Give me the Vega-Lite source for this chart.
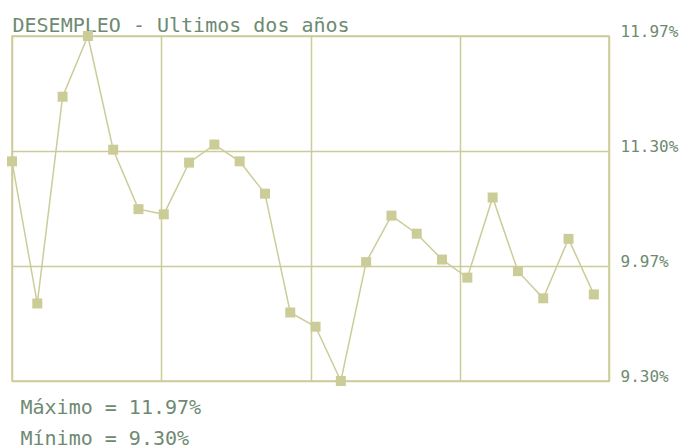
{
  "$schema": "https://vega.github.io/schema/vega-lite/v6.json",
  "width": 597,
  "height": 345,
  "autosize": "none",
  "padding": {"left": 12, "top": 36, "right": 72, "bottom": 67},
  "background": "white",
  "config": {"view": {"stroke": "#cccc99", "strokeWidth": 1.5}},
  "data": {
    "values": [
      {"mes": 0, "tasa": 11.00},
      {"mes": 1, "tasa": 9.90},
      {"mes": 2, "tasa": 11.50},
      {"mes": 3, "tasa": 11.97},
      {"mes": 4, "tasa": 11.09},
      {"mes": 5, "tasa": 10.63},
      {"mes": 6, "tasa": 10.59},
      {"mes": 7, "tasa": 10.99},
      {"mes": 8, "tasa": 11.13},
      {"mes": 9, "tasa": 11.00},
      {"mes": 10, "tasa": 10.75},
      {"mes": 11, "tasa": 9.83},
      {"mes": 12, "tasa": 9.72},
      {"mes": 13, "tasa": 9.30},
      {"mes": 14, "tasa": 10.22},
      {"mes": 15, "tasa": 10.58},
      {"mes": 16, "tasa": 10.44},
      {"mes": 17, "tasa": 10.24},
      {"mes": 18, "tasa": 10.10},
      {"mes": 19, "tasa": 10.72},
      {"mes": 20, "tasa": 10.15},
      {"mes": 21, "tasa": 9.94},
      {"mes": 22, "tasa": 10.40},
      {"mes": 23, "tasa": 9.97}
    ]
  },
  "encoding": {
    "x": {
      "field": "mes",
      "type": "quantitative",
      "scale": {"domain": [0, 23.6], "nice": false, "zero": false},
      "axis": {
        "orient": "bottom",
        "values": [0, 5.9, 11.8, 17.7, 23.6],
        "grid": true,
        "gridColor": "#cccc99",
        "gridWidth": 1.5,
        "gridOpacity": 1,
        "labels": false,
        "ticks": false,
        "domain": false,
        "title": ["Máximo = 11.97%", "Mínimo = 9.30%"],
        "titleFont": "DejaVu Sans Mono",
        "titleFontSize": 20,
        "titleFontWeight": "normal",
        "titleColor": "#6e8a72",
        "titleAnchor": "start",
        "titleAlign": "left",
        "titleBaseline": "alphabetic",
        "titleX": 8,
        "titleY": 32,
        "titleLineHeight": 31
      }
    },
    "y": {
      "field": "tasa",
      "type": "quantitative",
      "scale": {"domain": [9.30, 11.97], "nice": false, "zero": false},
      "axis": {
        "orient": "right",
        "values": [9.30, 10.19, 11.08, 11.97],
        "grid": true,
        "gridColor": "#cccc99",
        "gridWidth": 1.5,
        "gridOpacity": 1,
        "ticks": false,
        "domain": false,
        "title": "DESEMPLEO - Ultimos dos años",
        "titleFont": "DejaVu Sans Mono",
        "titleFontSize": 20,
        "titleFontWeight": "normal",
        "titleColor": "#6e8a72",
        "titleAngle": 0,
        "titleAlign": "left",
        "titleBaseline": "alphabetic",
        "titleX": -597,
        "titleY": -5,
        "labelPadding": 11,
        "labelFont": "DejaVu Sans Mono",
        "labelFontSize": 16,
        "labelColor": "#6e8a72",
        "labelBaseline": "alphabetic",
        "labelExpr": "datum.value > 10 && datum.value < 10.5 ? '9.97%' : (datum.value > 11 && datum.value < 11.5 ? '11.30%' : format(datum.value, '.2f') + '%')"
      }
    }
  },
  "layer": [
    {"mark": {"type": "line", "color": "#cccc99", "strokeWidth": 1.5}},
    {"mark": {"type": "point", "shape": "square", "size": 100, "filled": true, "opacity": 1, "color": "#cccc99"}}
  ]
}
